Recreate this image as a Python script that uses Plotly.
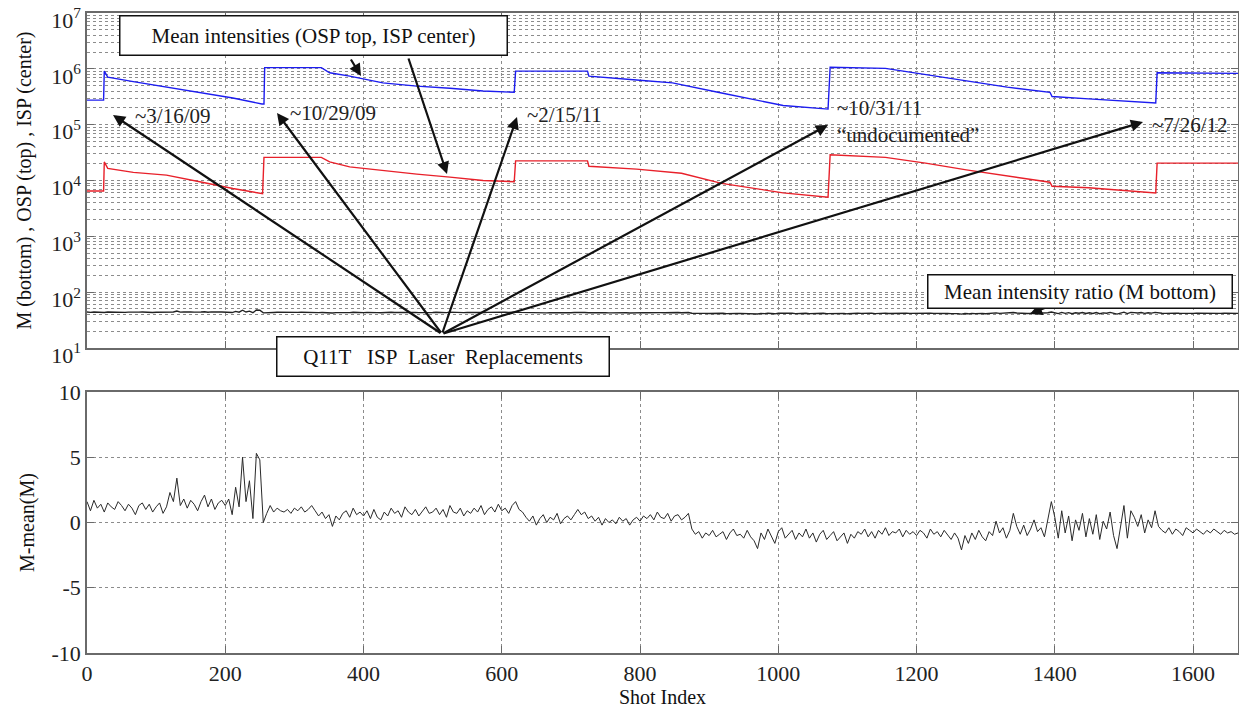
import plotly.graph_objects as go

# ---------------- data ----------------
SHOT_MAX = 1665

# OSP (top, blue) mean intensity: shot index / value (duplicate shots = jumps)
osp_shots = [0, 24, 25, 30, 67, 115, 163, 211, 253, 256, 257, 339, 351, 380, 428, 477,
             525, 573, 618, 620, 724, 726, 795, 847, 918, 1007, 1072, 1075, 1155, 1201,
             1272, 1331, 1393, 1396, 1449, 1546, 1548, 1665]
osp_vals = [2.75e5, 2.75e5, 9.1e5, 7.1e5, 5.9e5, 4.7e5, 3.7e5, 3.0e5, 2.35e5, 2.35e5, 1.05e6,
            1.05e6, 8.5e5, 7.4e5, 5.6e5, 4.9e5, 4.5e5, 4.0e5, 3.8e5, 9.1e5, 9.1e5, 7.4e5,
            6.3e5, 5.6e5, 3.7e5, 2.2e5, 1.9e5, 1.07e6, 1.02e6, 8.3e5, 6.0e5, 4.7e5, 3.8e5,
            3.2e5, 2.9e5, 2.45e5, 8.5e5, 8.3e5]

# ISP (center, red) mean intensity
isp_shots = [0, 24, 25, 30, 67, 115, 163, 211, 254, 256, 339, 351, 380, 428, 477, 525,
             573, 618, 620, 724, 726, 795, 860, 918, 1007, 1072, 1075, 1155, 1213, 1272,
             1331, 1393, 1396, 1449, 1546, 1548, 1665]
isp_vals = [6.5e3, 6.5e3, 2.15e4, 1.65e4, 1.4e4, 1.25e4, 9.5e3, 7.2e3, 5.8e3, 2.6e4, 2.6e4,
            2.15e4, 1.75e4, 1.5e4, 1.3e4, 1.15e4, 1.0e4, 9.5e3, 2.25e4, 2.25e4, 1.8e4,
            1.6e4, 1.35e4, 8.9e3, 6.0e3, 5.0e3, 2.9e4, 2.6e4, 2.05e4, 1.55e4, 1.2e4, 9.3e3,
            7.9e3, 7.4e3, 6.0e3, 2.05e4, 2.05e4]

# Mean intensity ratio M: mean value and deviations M-mean(M) every 5 shots
M_MEAN = 42.5
DEV_STEP = 5
dev_vals = [
    # 0-110
    1.6, 0.9, 1.7, 1.1, 1.4, 0.8, 1.5, 1.2, 1.0, 1.6, 1.3, 0.9, 1.4, 1.1, 0.6, 1.3, 1.5, 1.0,
    1.4, 0.8, 1.2, 1.5, 0.7,
    # 115-195
    1.2, 2.3, 1.6, 3.4, 1.3, 1.8, 1.1, 1.7, 1.4, 0.9, 1.6, 2.1, 1.2, 1.8, 1.0, 1.5, 1.7,
    # 200-255
    1.3, 1.8, 0.6, 2.7, 1.2, 5.0, 1.6, 3.2, 0.3, 5.3, 4.8, 0.0,
    # 260-330
    0.7, 1.3, 0.8, 1.1, 0.9, 0.8, 1.0, 0.7, 1.1, 0.9, 1.2, 0.8, 1.0, 1.3, 0.9,
    # 335-395
    0.5, 0.8, 0.3, 0.6, -0.3, 0.5, 0.2, 0.7, 0.9, 0.4, 1.1, 0.6, 0.8,
    # 400-550
    0.5, 0.9, 0.3, 1.0, 0.4, 0.2, 0.8, 0.5, 1.1, 0.7, 0.9, 0.4, 1.2, 0.8, 0.6, 1.0, 0.5, 0.9,
    1.2, 0.7, 0.8, 1.1, 0.6, 1.0, 0.4, 1.3, 0.8, 0.7, 1.1, 0.5, 0.9,
    # 555-630
    0.7, 1.1, 0.8, 1.3, 0.6, 1.0, 1.2, 0.8, 1.4, 0.9, 1.1, 0.7, 1.3, 1.6, 1.0, 0.8,
    # 635-705
    0.4, 0.1, 0.5, -0.2, 0.3, 0.6, 0.0, 0.4, 0.2, 0.7, -0.1, 0.3, 0.5, 0.2, 0.6,
    # 710-790
    1.0, 0.6, 0.8, 0.3, 0.5, 0.1, 0.4, -0.2, 0.3, 0.0, 0.2, -0.1, 0.4, 0.1, 0.3, -0.2, 0.2,
    # 795-870
    0.4, 0.1, 0.5, 0.3, 0.6, 0.2, 0.8, 0.4, 0.3, 0.7, 0.1, 0.5, 0.6, 0.2, 0.4, 0.7,
    # 875-950
    -0.5, -0.9, -0.7, -1.2, -0.8, -1.0, -0.6, -1.1, -0.9, -0.7, -1.3, -0.8, -0.5, -1.0, -0.9, -1.2,
    # 955-1035
    -0.6, -1.1, -1.4, -2.0, -0.8, -1.3, -0.5, -1.0, -1.6, -0.7, -0.4, -1.2, -0.9, -0.6, -1.3,
    -0.8, -1.1,
    # 1040-1115
    -0.5, -1.2, -0.8, -1.5, -0.9, -0.6, -1.3, -1.0, -0.7, -1.4, -1.1, -0.8, -1.6, -0.9, -1.2, -0.7,
    # 1120-1260
    -0.9, -0.5, -1.1, -0.7, -1.2, -0.6, -0.9, -0.4, -1.0, -0.7, -0.8, -0.5, -1.1, -0.6, -0.9,
    -0.7, -1.0, -0.6, -0.8, -1.2, -0.5, -0.9, -0.7, -1.1, -0.6, -1.0, -1.3, -0.8, -1.2,
    # 1265-1310
    -2.1, -1.0, -1.6, -0.8, -1.3, -0.6, -1.1, -1.4, -0.7, -1.0,
    # 1315-1390
    0.1, -0.8, -0.4, -1.2, -0.6, 0.7, -0.3, -0.9, -0.2, -1.0, -0.5, 0.2, -0.7, -0.4, -1.1, 0.3,
    # 1395-1485
    1.6, 0.4, -1.2, 0.9, -0.8, 0.5, -1.4, 0.2, -0.6, 0.7, -1.1, 0.3, -0.9, 0.6, -1.3, 0.1,
    -0.5, 0.8, -1.0,
    # 1490-1545
    -2.0, -0.4, 1.3, -1.2, 0.9, 0.4, -0.3, 0.6, -0.8, 0.2, -0.4, 0.9,
    # 1550-1665
    -0.3, -0.6, -0.8, -0.4, -0.9, -0.5, -0.7, -1.0, -0.4, -0.6, -0.8, -0.5, -0.7, -0.9, -0.6,
    -0.8, -0.5, -0.7, -0.9, -0.6, -0.8, -0.7, -0.9, -0.8,
]
dev_shots = list(range(0, SHOT_MAX + 1, DEV_STEP))[:len(dev_vals)]
m_vals = [M_MEAN + d for d in dev_vals]

log_tickvals = [1e1, 1e2, 1e3, 1e4, 1e5, 1e6, 1e7]
log_ticktext = ["10<sup>1</sup>", "10<sup>2</sup>", "10<sup>3</sup>", "10<sup>4</sup>",
                "10<sup>5</sup>", "10<sup>6</sup>", "10<sup>7</sup>"]
dev_ticks = [-10, -5, 0, 5, 10]
dev_ticktext = ["-10", "-5", "0", "5", "10"]
x_ticks = [0, 200, 400, 600, 800, 1000, 1200, 1400, 1600]

replacement_labels = ["~3/16/09", "~10/29/09", "~2/15/11",
                      "~10/31/11<br>\u201cundocumented\u201d", "~7/26/12"]

# ---------------- layout geometry (pixels) ----------------
W, H = 1239, 716
ML, MR, MT, MB = 87, 1, 13, 63
PW = W - ML - MR
PH = H - MT - MB


def px(xp):
    return (xp - ML) / PW


def py(yp):
    return (H - MB - yp) / PH


FONT = "Liberation Serif, Times New Roman, serif"
AXC = "#6a6a6a"
GRIDC = "#8c8c8c"

fig = go.Figure()
fig.add_trace(go.Scatter(x=osp_shots, y=osp_vals, mode="lines",
                         line=dict(color="#1c1cf0", width=1.4), xaxis="x", yaxis="y"))
fig.add_trace(go.Scatter(x=isp_shots, y=isp_vals, mode="lines",
                         line=dict(color="#e8202a", width=1.4), xaxis="x", yaxis="y"))
fig.add_trace(go.Scatter(x=dev_shots, y=m_vals, mode="lines",
                         line=dict(color="#222222", width=1.4), xaxis="x", yaxis="y"))
fig.add_trace(go.Scatter(x=dev_shots, y=dev_vals, mode="lines",
                         line=dict(color="#2a2a2a", width=1.0), xaxis="x2", yaxis="y2"))

axis_common = dict(showline=True, linecolor=AXC, linewidth=1.5, mirror="ticks",
                   ticks="inside", ticklen=7, tickcolor=AXC, zeroline=False,
                   showgrid=True, gridcolor=GRIDC, griddash="dot", gridwidth=1,
                   automargin=False, ticklabeloverflow="allow",
                   tickfont=dict(family=FONT, size=22, color="#222"))

fig.update_layout(
    width=W, height=H,
    margin=dict(l=ML, r=MR, t=MT, b=MB, autoexpand=False),
    paper_bgcolor="white", plot_bgcolor="white",
    showlegend=False,
    font=dict(family=FONT, size=20, color="#111"),
    xaxis=dict(axis_common, domain=[0, 1], anchor="y", range=[0, SHOT_MAX],
               tickvals=x_ticks, showticklabels=False),
    yaxis=dict(axis_common, domain=[py(348), 1], anchor="x", type="log",
               range=[0.9995, 7.0005], ticklabelshift=7,
               tickvals=log_tickvals, ticktext=log_ticktext,
               minor=dict(dtick="D1", showgrid=True, gridcolor=GRIDC, griddash="dot",
                          gridwidth=1, ticks=""),
               title=dict(text="M (bottom) , OSP (top) , ISP (center)",
                          font=dict(family=FONT, size=20), standoff=14)),
    xaxis2=dict(axis_common, domain=[0, 1], anchor="y2", range=[0, SHOT_MAX],
                tickvals=x_ticks,
                title=dict(text="Shot Index", font=dict(family=FONT, size=20), standoff=2)),
    yaxis2=dict(axis_common, domain=[0, py(392)], anchor="x2", range=[-10, 10],
                tickvals=dev_ticks, ticktext=dev_ticktext,
                title=dict(text="M-mean(M)", font=dict(family=FONT, size=20), standoff=12)),
)

annotations = []


def box(text, cx, cy, w, h):
    annotations.append(dict(xref="paper", yref="paper", x=px(cx), y=py(cy), text=text,
                            showarrow=False, width=w, height=h, bgcolor="white",
                            bordercolor="#111", borderwidth=1.5, borderpad=0,
                            font=dict(family=FONT, size=21, color="#111"),
                            xanchor="center", yanchor="middle"))


def arrow(tail, head):
    annotations.append(dict(xref="paper", yref="paper", x=px(head[0]), y=py(head[1]),
                            ax=tail[0] - head[0], ay=tail[1] - head[1], text="",
                            showarrow=True, arrowhead=2, arrowsize=1.1, arrowwidth=2.2,
                            arrowcolor="#111"))


def label(text, cx, cy):
    annotations.append(dict(xref="paper", yref="paper", x=px(cx), y=py(cy), text=text,
                            showarrow=False, font=dict(family=FONT, size=21, color="#222"),
                            xanchor="center", yanchor="middle", align="left"))


# replacement arrows from the Q11T box
hub = (442, 334)
for head in [(113, 115), (277, 113), (517, 117), (828, 125), (1143, 122)]:
    arrow(hub, head)

# arrows from the mean intensities box
arrow((350, 58), (361, 76))
arrow((408, 57), (447, 174))
# arrow from mean intensity ratio box
arrow((1064, 300), (1030, 314))

box("Mean intensities (OSP top, ISP center)", 313, 36, 386, 38)
box("Q11T\u00a0\u00a0 ISP\u00a0 Laser\u00a0 Replacements", 443, 356, 331, 38)
box("Mean intensity ratio (M bottom)", 1080, 291, 303, 32)

label(replacement_labels[0], 173, 116)
label(replacement_labels[1], 333, 113)
label(replacement_labels[2], 564, 115)
label(replacement_labels[3], 908, 122)
label(replacement_labels[4], 1190, 125)

fig.update_layout(annotations=annotations)
fig.write_html(
    "out.html",
    config={"displayModeBar": False},
    post_script="document.body.style.margin='0px';document.body.style.overflow='hidden';",
)
